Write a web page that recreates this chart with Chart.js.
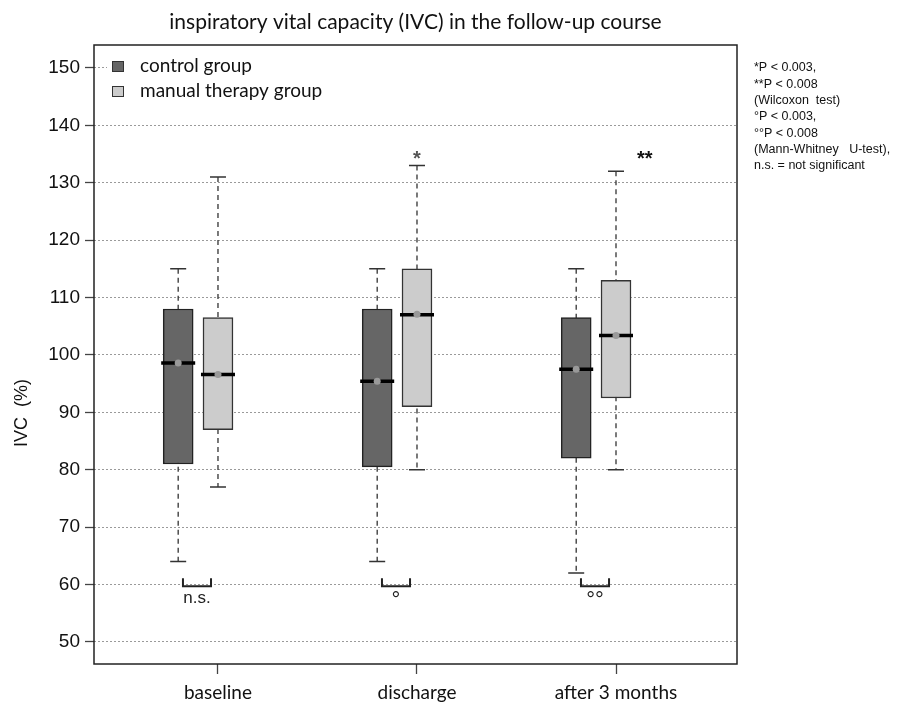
<!DOCTYPE html>
<html>
<head>
<meta charset="utf-8">
<script src="https://cdn.jsdelivr.net/npm/chart.js@4/dist/chart.umd.min.js"></script>
<style>
  html, body { margin: 0; padding: 0; background: #fff; }
  #wrap { width: 919px; height: 707px; }
</style>
</head>
<body>
<div id="wrap"><canvas id="chart" width="919" height="707"></canvas></div>
<script>
// categories and box statistics
const categories = ['baseline', 'discharge', 'after 3 months'];
const groups = ['control group', 'manual therapy group'];

const controlMin = [64, 64, 62];
const controlQ1 = [81, 80.5, 82];
const controlMedian = [98.6, 95.4, 97.5];
const controlMean = [98.6, 95.4, 97.5];
const controlQ3 = [108, 108, 106.5];
const controlMax = [115, 115, 115];

const manualMin = [77, 80, 80];
const manualQ1 = [87, 91, 92.5];
const manualMedian = [96.6, 107, 103.4];
const manualMean = [96.6, 107.1, 103.4];
const manualQ3 = [106.5, 115, 113];
const manualMax = [131, 133, 132];

const yTicks = [50, 60, 70, 80, 90, 100, 110, 120, 130, 140, 150];
const betweenLabels = ['n.s.', '°', '°°'];
const withinLabels = ['', '*', '**'];
const notes = [
    '*P < 0.003,',
    '**P < 0.008',
    '(Wilcoxon  test)',
    '°P < 0.003,',
    '°°P < 0.008',
    '(Mann-Whitney   U-test),',
    'n.s. = not significant'
];

const CONTROL_OFFSET = -0.2;

const controlColor = '#666666';
const manualColor = '#cccccc';

function boxData(q1, q3, offset) {
    return categories.map((c, i) => ({ x: i + offset, y: [q1[i], q3[i]] }));
}

const series = [
    { min: controlMin, med: controlMedian, mean: controlMean, max: controlMax, off: CONTROL_OFFSET },
    { min: manualMin, med: manualMedian, mean: manualMean, max: manualMax, off: 0 }
];

const boxPlugin = {
    id: 'boxExtras',
    beforeDatasetsDraw(chart) {
        const ctx = chart.ctx;
        const xs = chart.scales.x, ys = chart.scales.y;
        ctx.save();
        series.forEach(s => {
            categories.forEach((c, i) => {
                const px = xs.getPixelForValue(i + s.off);
                const top = ys.getPixelForValue(s.max[i]);
                const bot = ys.getPixelForValue(s.min[i]);
                ctx.strokeStyle = '#333';
                ctx.lineWidth = 1.3;
                ctx.setLineDash([5, 4]);
                ctx.beginPath();
                ctx.moveTo(px, top);
                ctx.lineTo(px, bot);
                ctx.stroke();
                ctx.setLineDash([]);
                ctx.lineWidth = 1.5;
                ctx.beginPath();
                ctx.moveTo(px - 8, top); ctx.lineTo(px + 8, top);
                ctx.moveTo(px - 8, bot); ctx.lineTo(px + 8, bot);
                ctx.stroke();
            });
        });
        ctx.restore();
    },
    afterDatasetsDraw(chart) {
        const ctx = chart.ctx;
        const xs = chart.scales.x, ys = chart.scales.y;
        ctx.save();
        // medians and means
        series.forEach(s => {
            categories.forEach((c, i) => {
                const px = xs.getPixelForValue(i + s.off);
                const py = ys.getPixelForValue(s.med[i]);
                ctx.strokeStyle = '#000';
                ctx.lineWidth = 3.5;
                ctx.beginPath();
                ctx.moveTo(px - 17, py);
                ctx.lineTo(px + 17, py);
                ctx.stroke();
                ctx.fillStyle = '#999';
                ctx.beginPath();
                ctx.arc(px, ys.getPixelForValue(s.mean[i]), 3.5, 0, Math.PI * 2);
                ctx.fill();
            });
        });

        // group comparison brackets
        categories.forEach((c, i) => {
            const x0 = xs.getPixelForValue(i - 0.176);
            const x1 = xs.getPixelForValue(i - 0.035);
            const yb = ys.getPixelForValue(59.7);
            const yt = ys.getPixelForValue(61.1);
            ctx.strokeStyle = '#222';
            ctx.lineWidth = 2;
            ctx.beginPath();
            ctx.moveTo(x0, yt); ctx.lineTo(x0, yb); ctx.lineTo(x1, yb); ctx.lineTo(x1, yt);
            ctx.stroke();
            ctx.fillStyle = '#222';
            ctx.textAlign = 'center';
            ctx.textBaseline = 'middle';
            if (betweenLabels[i] === 'n.s.') {
                ctx.font = '17px "Liberation Sans", Arial, sans-serif';
                ctx.fillText(betweenLabels[i], (x0 + x1) / 2, yb + 12);
            } else {
                ctx.font = '22px "Liberation Sans", Arial, sans-serif';
                ctx.fillText(betweenLabels[i], (x0 + x1) / 2, yb + 15);
            }
            if (withinLabels[i]) {
                ctx.font = 'bold 20px "Liberation Sans", Arial, sans-serif';
                ctx.fillStyle = i === 1 ? '#555' : '#111';
                const wx = i === 1 ? xs.getPixelForValue(i) : xs.getPixelForValue(i + 0.145);
                ctx.fillText(withinLabels[i], wx, 159);
            }
        });
        ctx.restore();
    },
    afterDraw(chart) {
        const ctx = chart.ctx;
        const area = chart.chartArea;
        ctx.save();
        // legend with white background
        ctx.fillStyle = '#fff';
        ctx.fillRect(107, 55, area.right - 108, 45);
        chart.data.datasets.forEach((ds, k) => {
            const y = 66 + k * 25;
            ctx.fillStyle = ds.backgroundColor;
            ctx.fillRect(112, y - 5, 12, 11);
            ctx.strokeStyle = '#333';
            ctx.lineWidth = 1;
            ctx.strokeRect(112.5, y - 4.5, 11, 10);
            ctx.fillStyle = '#111';
            ctx.font = '19px Lato, sans-serif';
            ctx.textAlign = 'left';
            ctx.textBaseline = 'middle';
            ctx.fillText(ds.label, 140, y);
        });

        // frame
        ctx.strokeStyle = '#222';
        ctx.lineWidth = 1.5;
        ctx.strokeRect(area.left, area.top, area.right - area.left, area.bottom - area.top);

        // title
        ctx.fillStyle = '#111';
        ctx.font = '21px Lato, sans-serif';
        ctx.textAlign = 'center';
        ctx.textBaseline = 'middle';
        ctx.fillText('inspiratory vital capacity (IVC) in the follow-up course', (area.left + area.right) / 2, 22);

        // y axis title
        ctx.save();
        ctx.translate(22, 413);
        ctx.rotate(-Math.PI / 2);
        ctx.font = '18px "Liberation Sans", Arial, sans-serif';
        ctx.fillText('IVC  (%)', 0, 0);
        ctx.restore();

        // notes on the right
        ctx.font = '12.5px "Liberation Sans", Arial, sans-serif';
        ctx.textAlign = 'left';
        notes.forEach((t, k) => ctx.fillText(t, 754, 68 + k * 16.3));
        ctx.restore();
    }
};

new Chart(document.getElementById('chart'), {
    type: 'bar',
    data: {
        datasets: [
            {
                label: groups[0],
                data: boxData(controlQ1, controlQ3, CONTROL_OFFSET),
                backgroundColor: controlColor,
                borderColor: '#222',
                borderWidth: 1.5,
                borderSkipped: false,
                barThickness: 30,
                grouped: false
            },
            {
                label: groups[1],
                data: boxData(manualQ1, manualQ3, 0),
                backgroundColor: manualColor,
                borderColor: '#333',
                borderWidth: 1.5,
                borderSkipped: false,
                barThickness: 30,
                grouped: false
            }
        ]
    },
    options: {
        responsive: false,
        animation: false,
        layout: { padding: { top: 45, right: 182, left: 0, bottom: 0 } },
        plugins: {
            legend: { display: false },
            title: { display: false },
            tooltip: { enabled: false }
        },
        scales: {
            x: {
                type: 'linear',
                min: -0.623,
                max: 2.608,
                offset: false,
                afterFit(scale) { scale.height = 43; },
                afterBuildTicks(scale) {
                    scale.ticks = categories.map((c, i) => ({ value: i }));
                },
                ticks: {
                    padding: 7,
                    color: '#111',
                    font: { family: 'Lato', size: 19 },
                    callback: v => categories[v]
                },
                grid: {
                    offset: false,
                    drawOnChartArea: false,
                    tickLength: 10,
                    tickColor: '#444',
                    tickWidth: 1.3
                },
                border: { display: false }
            },
            y: {
                min: 46.16,
                max: 154,
                afterFit(scale) { scale.width = 94; },
                afterBuildTicks(scale) {
                    scale.ticks = yTicks.map(v => ({ value: v }));
                },
                ticks: {
                    padding: 5,
                    color: '#111',
                    font: { family: '"Liberation Sans", Arial, sans-serif', size: 19 }
                },
                grid: {
                    color: '#9a9a9a',
                    lineWidth: 1,
                    tickLength: 9,
                    tickColor: '#444',
                    tickWidth: 1.3,
                    tickBorderDash: []
                },
                border: { display: false, dash: [2, 2] }
            }
        }
    },
    plugins: [boxPlugin]
});
</script>
</body>
</html>
